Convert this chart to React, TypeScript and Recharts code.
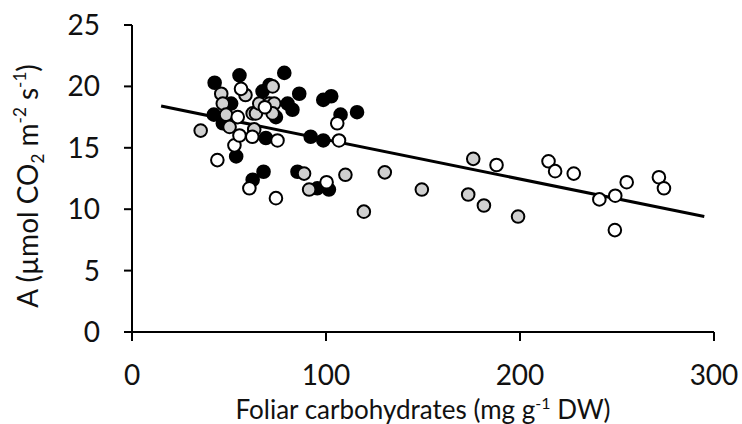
import { ScatterChart, Scatter, XAxis, YAxis } from 'recharts';

// Filled (black) group
const blackX = [42.6, 55.4, 78.5, 70.8, 67.3, 86.2, 98.6, 102.7, 51.1, 42.2, 46.8, 80.2, 82.7, 74.2, 107.5, 116, 69, 92.1, 98.6, 53.7, 62.2, 67.8, 85.3, 95.5, 101.5];
const blackY = [20.3, 20.9, 21.1, 20.1, 19.6, 19.4, 18.9, 19.2, 18.6, 17.7, 17.0, 18.6, 18.1, 17.5, 17.7, 17.9, 15.8, 15.9, 15.6, 14.3, 12.4, 13.05, 13.05, 11.7, 11.6];

// Grey group
const greyX = [46, 58.5, 46.8, 48.5, 50.3, 35.4, 62.2, 63.9, 72.5, 65.6, 70.8, 73.3, 72.5, 63, 88.7, 91.3, 110, 130.3, 149.4, 175.9, 173.3, 181.4, 199, 119.5];
const greyY = [19.4, 19.3, 18.6, 17.7, 16.7, 16.4, 17.8, 17.8, 20.0, 18.6, 18.6, 18.6, 17.8, 16.5, 12.9, 11.6, 12.8, 13.0, 11.6, 14.1, 11.2, 10.3, 9.4, 9.8];

// Open (white) group
const whiteX = [44, 52.8, 55.4, 54.5, 56.2, 62, 68.5, 75, 106.7, 105.8, 100.3, 60.5, 74.2, 187.9, 214.7, 218.1, 227.7, 240.9, 249.1, 255, 248.9, 271.6, 274.2];
const whiteY = [14.0, 15.2, 16.0, 17.5, 19.8, 15.9, 18.3, 15.6, 15.6, 17.0, 12.2, 11.7, 10.9, 13.6, 13.9, 13.1, 12.9, 10.8, 11.1, 12.2, 8.3, 12.6, 11.7];

// Linear trend end points
const trendX = [15, 295];
const trendY = [18.4, 9.4];

const xTicks = [0, 100, 200, 300];
const yTicks = [0, 5, 10, 15, 20, 25];

const toPoints = (xs: number[], ys: number[]) => xs.map((x, i) => ({ x, y: ys[i] }));

const FONT = 'Lato, "Open Sans", sans-serif';

const dot = (fill: string) => (props: any) => {
    const { cx, cy } = props;
    if (cx == null || cy == null) return <g />;
    return <circle cx={cx} cy={cy} r={6.3} fill={fill} stroke="#000" strokeWidth={2} />;
};

const XTitle = (props: any) => {
    const vb = props.viewBox || {};
    const cx = vb.x + vb.width / 2;
    return (
        <text x={cx} y={419} textAnchor="middle" fontFamily={FONT} fontSize={26} fill="#111">
            Foliar carbohydrates (mg g
            <tspan fontSize={16} dy={-10}>-1</tspan>
            <tspan dy={10}> DW)</tspan>
        </text>
    );
};

const YTitle = () => {
    const x = 38;
    const y = 186;
    return (
        <text x={x} y={y} transform={`rotate(-90, ${x}, ${y})`} textAnchor="middle" fontFamily={FONT} fontSize={28} fill="#111">
            A (µmol CO
            <tspan fontSize={17} dy={6}>2</tspan>
            <tspan dy={-6}> m</tspan>
            <tspan fontSize={17} dy={-12}>-2</tspan>
            <tspan dy={12}> s</tspan>
            <tspan fontSize={17} dy={-12}>-1</tspan>
            <tspan dy={12}>)</tspan>
        </text>
    );
};

export default function App() {
    return (
        <div style={{ position: 'absolute', left: 0, top: 0, width: 742, height: 424, background: '#fff' }}>
            <ScatterChart width={742} height={424} margin={{ top: 25, right: 28, left: 0, bottom: 0 }}>
                <XAxis
                    type="number"
                    dataKey="x"
                    domain={[0, 300]}
                    ticks={xTicks}
                    height={92}
                    stroke="#000"
                    axisLine={{ stroke: '#000', strokeWidth: 2 }}
                    tickLine={{ stroke: '#000', strokeWidth: 2 }}
                    tickSize={9}
                    tickMargin={24}
                    tick={{ fontFamily: FONT, fontSize: 28, fill: '#111' }}
                    label={{ content: <XTitle /> }}
                />
                <YAxis
                    type="number"
                    dataKey="y"
                    domain={[0, 25]}
                    ticks={yTicks}
                    width={132}
                    stroke="#000"
                    axisLine={{ stroke: '#000', strokeWidth: 2 }}
                    tickLine={{ stroke: '#000', strokeWidth: 2 }}
                    tickSize={8}
                    tickMargin={24}
                    tick={{ fontFamily: FONT, fontSize: 28, fill: '#111' }}
                    label={{ content: <YTitle /> }}
                />
                <Scatter data={toPoints(trendX, trendY)} line={{ stroke: '#000', strokeWidth: 3 }} shape={() => <g />} isAnimationActive={false} />
                <Scatter data={toPoints(blackX, blackY)} shape={dot('#000')} isAnimationActive={false} />
                <Scatter data={toPoints(greyX, greyY)} shape={dot('#d0d0d0')} isAnimationActive={false} />
                <Scatter data={toPoints(whiteX, whiteY)} shape={dot('#fff')} isAnimationActive={false} />
            </ScatterChart>
        </div>
    );
}
